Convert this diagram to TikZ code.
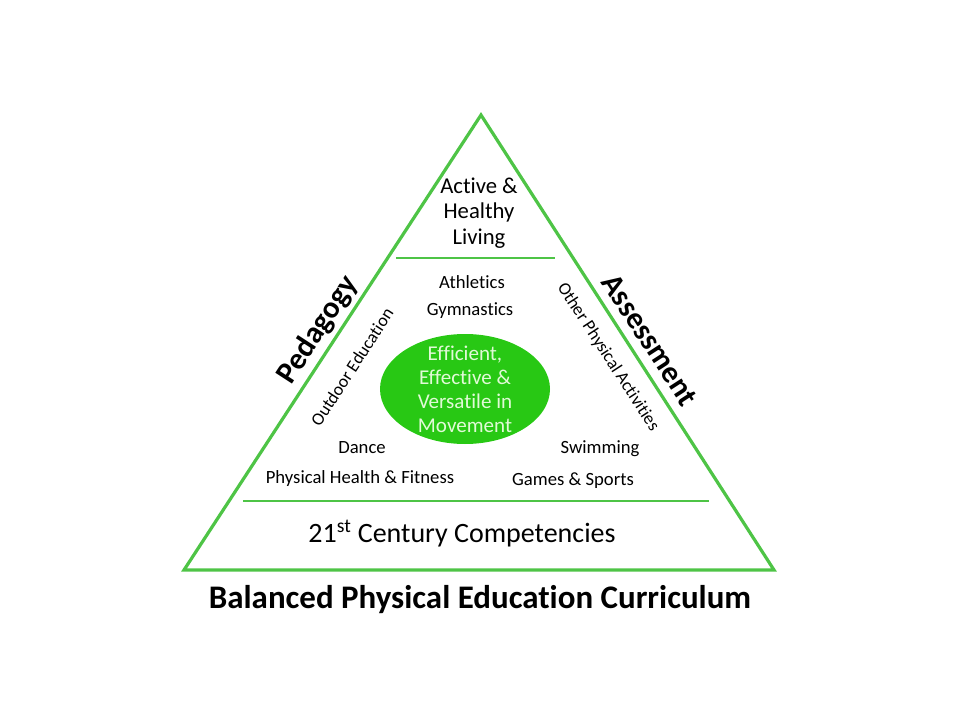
\documentclass[tikz,border=0pt]{standalone}
\usepackage{fontspec}
\setmainfont{Carlito}[Ligatures=NoCommon]
\usetikzlibrary{shapes.geometric}
\definecolor{edgegreen}{RGB}{78,196,70}
\definecolor{ballgreen}{RGB}{40,200,20}
\definecolor{balltext}{RGB}{225,250,215}
\begin{document}
\begin{tikzpicture}[x=0.75pt,y=-0.75pt,
  edge/.style={draw=edgegreen,line width=2.4pt,line join=miter},
  divider/.style={draw=edgegreen,line width=2pt},
  txt/.style={font=\fontsize{14}{16}\selectfont,inner sep=0pt},
  side/.style={font=\fontsize{23}{26}\selectfont\bfseries,inner sep=0pt},
  sub/.style={font=\fontsize{13.3}{15}\selectfont,inner sep=0pt}]
\useasboundingbox (0,0) rectangle (960,720);
\coordinate (A) at (481,115);
\coordinate (L) at (184,570);
\coordinate (R) at (774,570);
\draw[edge] (A) -- (R) -- (L) -- cycle;
\coordinate (t1) at (396,258);
\coordinate (t2) at (555,258);
\draw[divider] (t1) -- (t2);
\coordinate (b1) at (243,501);
\coordinate (b2) at (709,501);
\draw[divider] (b1) -- (b2);
\node[align=center,font=\fontsize{17}{19}\selectfont,inner sep=0pt] (top) at (479,213) {Active \&\\Healthy\\Living};
\node[ellipse,fill=ballgreen,minimum width=170*0.75pt,minimum height=110*0.75pt,inner sep=0pt] (ball) at (465,389) {};
\node[align=center,text=balltext,font=\fontsize{15.8}{18}\selectfont,inner sep=0pt] (balltxt) at (ball.center) {Efficient,\\Effective \&\\Versatile in\\Movement};
\node[txt] (ath) at (472,282) {Athletics};
\node[txt] (gym) at (470,311) {Gymnastics};
\node[txt] (dance) at (362,448) {Dance};
\node[txt] (swim) at (600,449) {Swimming};
\node[txt] (phf) at (360,479) {Physical Health \& Fitness};
\node[txt] (gs) at (573,481) {Games \& Sports};
\node[sub,rotate=57] (out) at (352,367) {Outdoor Education};
\node[sub,rotate=-57] (opa) at (608,357) {Other Physical Activities};
\node[side,rotate=57] (ped) at (318,330) {Pedagogy};
\node[side,rotate=-57] (ass) at (650,340) {Assessment};
\node[font=\fontsize{21}{24}\selectfont,inner sep=0pt] (cent) at (462,534) {21\textsuperscript{st} Century Competencies};
\node[font=\fontsize{24.7}{28}\selectfont\bfseries,inner sep=0pt] (title) at (480,600) {Balanced Physical Education Curriculum};
\end{tikzpicture}
\end{document}
